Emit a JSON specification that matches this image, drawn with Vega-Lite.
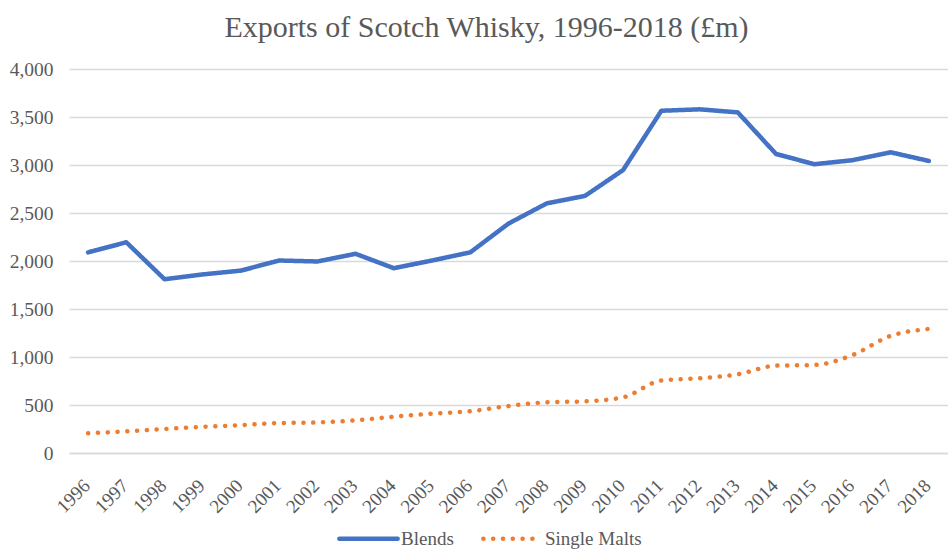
{
  "$schema": "https://vega.github.io/schema/vega-lite/v6.json",
  "autosize": {"type": "none"},
  "width": 879,
  "height": 384,
  "padding": {"left": 69, "top": 69, "right": 0, "bottom": 96},
  "background": "white",
  "title": {
    "text": "Exports of Scotch Whisky, 1996-2018 (£m)",
    "font": "Liberation Serif",
    "fontSize": 30,
    "fontWeight": "normal",
    "color": "#595959",
    "anchor": "middle",
    "frame": "group",
    "dx": -22,
    "offset": 16
  },
  "config": {
    "view": {"stroke": null}
  },
  "data": {
    "values": [
      {"year": "1996", "series": "Blends", "value": 2090},
      {"year": "1997", "series": "Blends", "value": 2195},
      {"year": "1998", "series": "Blends", "value": 1810},
      {"year": "1999", "series": "Blends", "value": 1860},
      {"year": "2000", "series": "Blends", "value": 1900},
      {"year": "2001", "series": "Blends", "value": 2005},
      {"year": "2002", "series": "Blends", "value": 1995},
      {"year": "2003", "series": "Blends", "value": 2075},
      {"year": "2004", "series": "Blends", "value": 1925},
      {"year": "2005", "series": "Blends", "value": 2005},
      {"year": "2006", "series": "Blends", "value": 2090},
      {"year": "2007", "series": "Blends", "value": 2390},
      {"year": "2008", "series": "Blends", "value": 2600},
      {"year": "2009", "series": "Blends", "value": 2678},
      {"year": "2010", "series": "Blends", "value": 2948},
      {"year": "2011", "series": "Blends", "value": 3565},
      {"year": "2012", "series": "Blends", "value": 3580},
      {"year": "2013", "series": "Blends", "value": 3548},
      {"year": "2014", "series": "Blends", "value": 3115},
      {"year": "2015", "series": "Blends", "value": 3008},
      {"year": "2016", "series": "Blends", "value": 3050},
      {"year": "2017", "series": "Blends", "value": 3132},
      {"year": "2018", "series": "Blends", "value": 3042},
      {"year": "1996", "series": "Single Malts", "value": 205},
      {"year": "1997", "series": "Single Malts", "value": 225},
      {"year": "1998", "series": "Single Malts", "value": 250},
      {"year": "1999", "series": "Single Malts", "value": 272},
      {"year": "2000", "series": "Single Malts", "value": 290},
      {"year": "2001", "series": "Single Malts", "value": 312},
      {"year": "2002", "series": "Single Malts", "value": 318},
      {"year": "2003", "series": "Single Malts", "value": 340},
      {"year": "2004", "series": "Single Malts", "value": 378},
      {"year": "2005", "series": "Single Malts", "value": 410},
      {"year": "2006", "series": "Single Malts", "value": 435},
      {"year": "2007", "series": "Single Malts", "value": 490},
      {"year": "2008", "series": "Single Malts", "value": 528},
      {"year": "2009", "series": "Single Malts", "value": 538},
      {"year": "2010", "series": "Single Malts", "value": 580},
      {"year": "2011", "series": "Single Malts", "value": 755},
      {"year": "2012", "series": "Single Malts", "value": 778},
      {"year": "2013", "series": "Single Malts", "value": 820},
      {"year": "2014", "series": "Single Malts", "value": 910},
      {"year": "2015", "series": "Single Malts", "value": 917},
      {"year": "2016", "series": "Single Malts", "value": 1020},
      {"year": "2017", "series": "Single Malts", "value": 1220},
      {"year": "2018", "series": "Single Malts", "value": 1292}
    ]
  },
  "encoding": {
    "x": {
      "field": "year",
      "type": "ordinal",
      "scale": {"type": "point", "padding": 0.5},
      "axis": {
        "title": null,
        "labelFont": "Liberation Serif",
        "labelFontSize": 19,
        "labelColor": "#595959",
        "labelAngle": -45,
        "labelAlign": "right",
        "labelBaseline": "top",
        "labelPadding": 23,
        "labelOffset": -8,
        "ticks": false,
        "grid": false,
        "domainColor": "#d9d9d9",
        "domainWidth": 1.5
      }
    },
    "y": {
      "field": "value",
      "type": "quantitative",
      "scale": {"domain": [0, 4000]},
      "axis": {
        "title": null,
        "labelFont": "Liberation Serif",
        "labelFontSize": 19.5,
        "labelColor": "#595959",
        "values": [0, 500, 1000, 1500, 2000, 2500, 3000, 3500, 4000],
        "format": ",d",
        "ticks": false,
        "domain": false,
        "gridColor": "#d9d9d9",
        "gridWidth": 1.5,
        "labelPadding": 16
      }
    },
    "color": {
      "field": "series",
      "type": "nominal",
      "scale": {"domain": ["Blends", "Single Malts"], "range": ["#4472C4", "#ED7D31"]},
      "legend": {
        "orient": "none",
        "legendX": 268,
        "legendY": 438,
        "direction": "horizontal",
        "title": null,
        "padding": 0,
        "labelFont": "Liberation Serif",
        "labelFontSize": 19,
        "labelColor": "#595959",
        "symbolType": "stroke",
        "symbolSize": 3400,
        "symbolStrokeWidth": 4.5,
        "columnPadding": 20,
        "labelOffset": 1,
        "encode": {"symbols": {"update": {"strokeCap": {"value": "round"}}}}
      }
    },
    "strokeDash": {
      "field": "series",
      "type": "nominal",
      "scale": {"domain": ["Blends", "Single Malts"], "range": [[1, 0], [0.1, 9.7]]},
      "legend": null
    }
  },
  "layer": [
    {
      "transform": [{"filter": "datum.series == 'Blends'"}],
      "mark": {"type": "line", "strokeWidth": 4.5, "strokeJoin": "round", "strokeCap": "round"}
    },
    {
      "transform": [{"filter": "datum.series == 'Single Malts'"}],
      "mark": {"type": "line", "strokeWidth": 4.5, "strokeCap": "round", "interpolate": "monotone"}
    }
  ]
}
